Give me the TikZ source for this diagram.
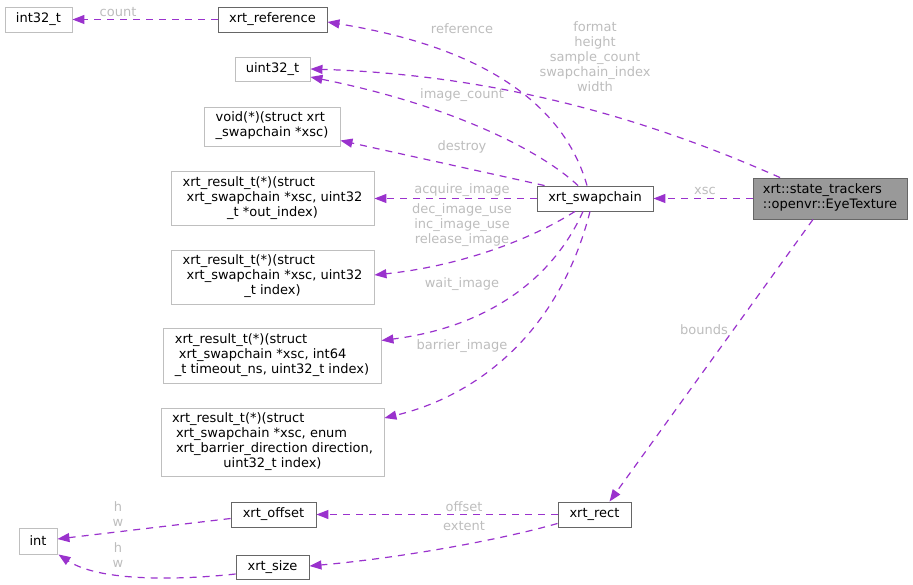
\documentclass[tikz,border=0pt]{standalone}
\usepackage{fontspec}
\setmainfont{DejaVu Sans}
\usetikzlibrary{arrows.meta}
\definecolor{edgecol}{HTML}{9A32CD}
\definecolor{lblcol}{HTML}{BDBDBD}
\definecolor{lightbd}{HTML}{BFBFBF}
\definecolor{darkbd}{HTML}{666666}
\definecolor{curfill}{HTML}{999999}
\tikzset{
  every node/.style={font=\fontsize{13}{15}\selectfont},
  box/.style={draw=lightbd, line width=0.9pt, inner sep=0pt, minimum height=25pt},
  docbox/.style={draw=darkbd, line width=0.9pt, inner sep=0pt, minimum height=25pt},
  curbox/.style={draw=darkbd, fill=curfill, line width=0.9pt, inner sep=0pt},
  edge/.style={draw=edgecol, line width=1.2pt, dash pattern=on 7pt off 6pt,
    -{Triangle[length=12pt,width=9pt]}},
  lbl/.style={text=lblcol, inner sep=0pt, align=center},
}
\newcommand{\mlines}[1]{\begin{tabular}{@{}l@{}}#1\end{tabular}}
\newcommand{\cln}[1]{\multicolumn{1}{@{}c@{}}{#1}}
\begin{document}
\begin{tikzpicture}[x=1pt,y=-1pt]
\useasboundingbox (0,0) rectangle (913,585);
% nodes
\node[box, minimum width=67pt] (int32) at (38.5,19.5) {int32\_t};
\node[docbox, minimum width=109pt] (xref) at (272.5,19.5) {xrt\_reference};
\node[box, minimum width=75pt, minimum height=24pt] (uint) at (272.5,69) {uint32\_t};
\node[box, minimum width=136pt, minimum height=39pt] (void) at (272,126.5)
  {\mlines{void(*)(struct xrt\\\cln{\_swapchain *xsc)}}};
\node[box, minimum width=203pt, minimum height=54pt] (acq) at (272.5,198.5)
  {\mlines{xrt\_result\_t(*)(struct\\\hspace*{4pt}xrt\_swapchain *xsc, uint32\\\cln{\_t *out\_index)}}};
\node[box, minimum width=203pt, minimum height=54pt] (rel) at (272.5,277)
  {\mlines{xrt\_result\_t(*)(struct\\\hspace*{4pt}xrt\_swapchain *xsc, uint32\\\cln{\_t index)}}};
\node[box, minimum width=218pt, minimum height=55pt] (wait) at (272,355.5)
  {\mlines{xrt\_result\_t(*)(struct\\\hspace*{4pt}xrt\_swapchain *xsc, int64\\\_t timeout\_ns, uint32\_t index)}};
\node[box, minimum width=223pt, minimum height=68pt] (barr) at (272.5,442)
  {\mlines{xrt\_result\_t(*)(struct\\\hspace*{4pt}xrt\_swapchain *xsc, enum\\\hspace*{4pt}xrt\_barrier\_direction direction,\\\cln{uint32\_t index)}}};
\node[docbox, minimum width=116pt] (swap) at (595,198.5) {xrt\_swapchain};
\node[curbox, minimum width=154pt, minimum height=41pt] (eye) at (830,198.5)
  {\mlines{xrt::state\_trackers\\::openvr::EyeTexture}};
\node[docbox, minimum width=73pt] (rect) at (594.5,514.5) {xrt\_rect};
\node[docbox, minimum width=85pt] (offs) at (273.5,514.5) {xrt\_offset};
\node[docbox, minimum width=73pt, minimum height=24pt] (size) at (272.5,567) {xrt\_size};
\node[box, minimum width=38pt, minimum height=26pt] (int) at (38,541) {int};
% edges
\draw[edge] (xref.west) -- (int32.east);
\draw[edge] ([xshift=-8pt]swap.north) .. controls (567,115) and (500,50) .. ([yshift=-2.5pt]xref.east);
\draw[edge] ([xshift=-50pt]eye.north) .. controls (650,120) and (500,75) .. (uint.east);
\draw[edge] ([xshift=-17pt]swap.north) .. controls (540,150) and (450,105) .. ([yshift=-8pt]uint.east);
\draw[edge] ([xshift=8pt]swap.north west) -- ([yshift=-14pt]void.east);
\draw[edge] (swap.west) -- (acq.east);
\draw[edge] ([xshift=-20pt]swap.south) .. controls (530,240) and (460,266) .. ([yshift=2pt]rel.east);
\draw[edge] ([xshift=-12pt]swap.south) .. controls (550,285) and (480,328) .. ([yshift=15pt]wait.east);
\draw[edge] ([xshift=-5pt]swap.south) .. controls (560,330) and (480,395) .. ([yshift=24pt]barr.east);
\draw[edge] (eye.west) -- (swap.east);
\draw[edge] ([xshift=-17pt]eye.south) -- ([xshift=15pt]rect.north);
\draw[edge] (rect.west) -- (offs.east);
\draw[edge] ([yshift=4pt]rect.south west) .. controls (500,540) and (400,558) .. ([yshift=1pt]size.east);
\draw[edge] ([yshift=-4pt]offs.west) -- ([yshift=2pt]int.east);
\draw[edge] ([yshift=-7pt]size.west) .. controls (180,580) and (100,582) .. ([xshift=1pt]int.south east);
% labels
\node[lbl] (lcount) at (118,12) {count};
\node[lbl] (lref) at (462,29) {reference};
\node[lbl] (lfmt) at (595,57) {format\\height\\sample\_count\\swapchain\_index\\width};
\node[lbl] (limg) at (462,95) {image\_count};
\node[lbl] (ldes) at (462,147) {destroy};
\node[lbl] (lacq) at (462,190) {acquire\_image};
\node[lbl] (ldec) at (462,225) {dec\_image\_use\\inc\_image\_use\\release\_image};
\node[lbl] (lwait) at (462,284) {wait\_image};
\node[lbl] (lbar) at (462,346) {barrier\_image};
\node[lbl] (lxsc) at (705,191) {xsc};
\node[lbl] (lbnd) at (704,330) {bounds};
\node[lbl] (loff) at (464,507) {offset};
\node[lbl] (lext) at (464,526) {extent};
\node[lbl] (lhw1) at (118,514) {h\\w};
\node[lbl] (lhw2) at (118,555.5) {h\\w};
\end{tikzpicture}
\end{document}
